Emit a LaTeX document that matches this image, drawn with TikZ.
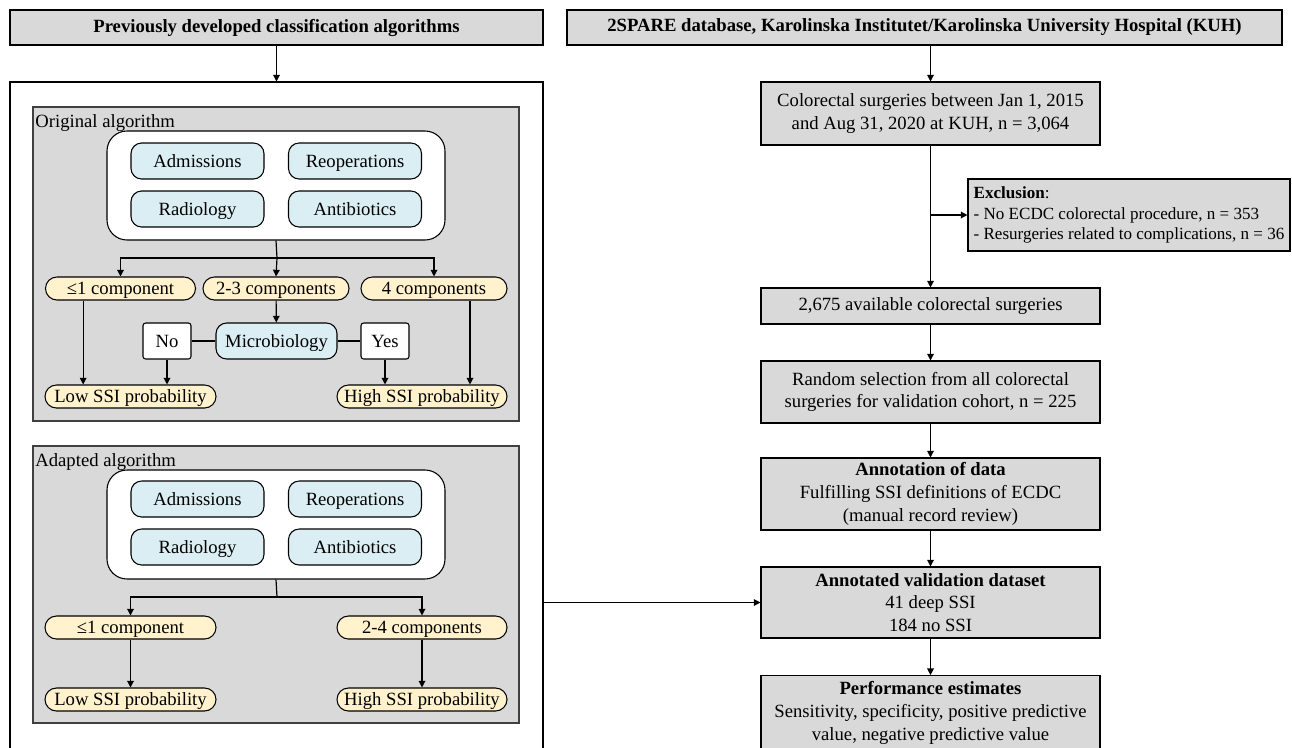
\documentclass[tikz,border=0pt]{standalone}
\usepackage{fontspec}
\setmainfont{Liberation Serif}
\usetikzlibrary{arrows.meta}
\definecolor{panelgray}{RGB}{217,217,217}
\definecolor{compblue}{RGB}{218,238,243}
\definecolor{pillyellow}{RGB}{255,242,204}
\definecolor{edgegray}{RGB}{64,64,64}

\begin{document}
\begin{tikzpicture}[x=0.75pt,y=-0.75pt,
  font=\fontsize{14}{17}\selectfont,
  arr/.style={-{Triangle[length=5pt,width=5pt]},line width=0.9pt},
  conn/.style={line width=0.9pt},
  head/.style={draw,fill=panelgray,font=\fontsize{14}{17}\selectfont\bfseries,minimum width=399.75pt,minimum height=26.25pt,inner sep=0pt,line width=0.8pt},
  panel/.style={draw=edgegray,fill=panelgray,minimum width=364.5pt,inner sep=0pt,line width=0.8pt},
  plbl/.style={anchor=north west,inner sep=2pt,yshift=-4pt},
  group/.style={draw,fill=white,rounded corners=15pt,minimum width=253.5pt,minimum height=81.75pt,line width=0.8pt},
  comp/.style={draw,fill=compblue,rounded corners=8pt,minimum width=99.75pt,minimum height=27pt,inner sep=0pt,text height=9.5pt,text depth=0.5pt,line width=0.8pt},
  pill/.style={draw,fill=pillyellow,rounded corners=8.6pt,minimum height=17.25pt,inner sep=0pt,text height=9.5pt,text depth=0.5pt,line width=0.8pt},
  answer/.style={draw,fill=white,rounded corners=2pt,minimum width=36pt,minimum height=27pt,inner sep=0pt,text height=9.5pt,text depth=0.5pt,line width=0.8pt},
  stepbox/.style={draw,fill=panelgray,minimum width=254.25pt,inner sep=0pt,align=center,line width=0.8pt}]
\clip (0,0) rectangle (1292,747);

% headers
\node[head] (hdl) at (276.5,27.5) {Previously developed classification algorithms};
\node[head,minimum width=536.25pt] (hdr) at (924.5,27.5) {2SPARE database, Karolinska Institutet/Karolinska University Hospital (KUH)};

% left side
\node[draw,fill=white,minimum width=399.75pt,minimum height=540pt,inner sep=0pt,line width=0.8pt] (outer) at (276.5,442) {};

% original algorithm
\node[panel,minimum height=235.5pt] (orig) at (276,264) {};
\node[plbl] (origlbl) at (orig.north west) {Original algorithm};
\node[group] (grp1) at (276,185.5) {};
\node[comp] (adm1) at (197.5,161) {Admissions};
\node[comp] (reop1) at (355,161) {Reoperations};
\node[comp] (rad1) at (197.5,209) {Radiology};
\node[comp] (anti1) at (355,209) {Antibiotics};
\node[pill,minimum width=112.5pt] (le1) at (120.5,288.5) {≤1 component};
\node[pill,minimum width=109.5pt] (two1) at (276,288.5) {2-3 components};
\node[pill,minimum width=109.5pt] (four1) at (434,288.5) {4 components};
\node[comp,minimum width=90.75pt] (micro) at (276.5,341) {Microbiology};
\node[answer] (no) at (167,341) {No};
\node[answer] (yes) at (385,341) {Yes};
\node[pill,minimum width=128.25pt] (low1) at (130.5,396.5) {Low SSI probability};
\node[pill,minimum width=127.5pt] (high1) at (422,396.5) {High SSI probability};

\coordinate (split1) at (277,258);
\draw[conn] (grp1.south) -- (split1);
\draw[arr] (split1) -| (le1.north);
\draw[arr] (split1) -- (two1.north);
\draw[arr] (split1) -| (four1.north);
\draw[arr] (two1) -- (micro);
\draw[conn] (no) -- (micro) -- (yes);
\draw[arr] ([xshift=-28pt]le1.south) -- ([xshift=-28pt]le1.south |- low1.north);
\draw[arr] (no) -- (no |- low1.north);
\draw[arr] (yes) -- (yes |- high1.north);
\draw[arr] ([xshift=27pt]four1.south) -- ([xshift=27pt]four1.south |- high1.north);

% adapted algorithm
\node[panel,minimum height=207.75pt] (adapt) at (276,584.5) {};
\node[plbl] (adaptlbl) at (adapt.north west) {Adapted algorithm};
\node[group] (grp2) at (276,524.5) {};
\node[comp] (adm2) at (197.5,499) {Admissions};
\node[comp] (reop2) at (355,499) {Reoperations};
\node[comp] (rad2) at (197.5,547) {Radiology};
\node[comp] (anti2) at (355,547) {Antibiotics};
\node[pill,minimum width=128.25pt] (le2) at (130.5,627.5) {≤1 component};
\node[pill,minimum width=127.5pt] (many2) at (422,627.5) {2-4 components};
\node[pill,minimum width=128.25pt] (low2) at (130.5,699.5) {Low SSI probability};
\node[pill,minimum width=127.5pt] (high2) at (422,699.5) {High SSI probability};

\coordinate (split2) at (277,597);
\draw[conn] (grp2.south) -- (split2);
\draw[arr] (split2) -| (le2.north);
\draw[arr] (split2) -| (many2.north);
\draw[arr] (le2) -- (low2);
\draw[arr] (many2) -- (high2);

% right side
\node[stepbox,minimum height=47.25pt] (surg) at (930.5,113.5) {Colorectal surgeries between Jan 1, 2015\\and Aug 31, 2020 at KUH, n = 3,064};
\node[draw,fill=panelgray,minimum width=241.5pt,minimum height=54pt,align=left,inner sep=3pt,line width=0.8pt,font=\fontsize{12.8}{15.5}\selectfont] (excl) at (1129,215) {\textbf{Exclusion}:\\- No ECDC colorectal procedure, n = 353\\- Resurgeries related to complications, n = 36};
\node[stepbox,minimum height=27pt] (avail) at (930.5,306) {2,675 available colorectal surgeries};
\node[stepbox,minimum height=46.5pt] (rand) at (930.5,392) {Random selection from all colorectal\\surgeries for validation cohort, n = 225};
\node[stepbox,minimum height=54pt] (annot) at (930.5,494) {\textbf{Annotation of data}\\Fulfilling SSI definitions of ECDC\\(manual record review)};
\node[stepbox,minimum height=53.25pt] (valid) at (930.5,602.5) {\textbf{Annotated validation dataset}\\41 deep SSI\\184 no SSI};
\node[stepbox,minimum height=56pt] (perf) at (930.5,713) {\textbf{Performance estimates}\\Sensitivity, specificity, positive predictive\\value, negative predictive value};

\draw[arr] (hdl) -- (outer);
\draw[arr] (hdr.south -| surg.north) -- (surg.north);
\draw[arr] (surg) -- (avail);
\draw[arr] (surg.south |- excl.west) -- (excl.west);
\draw[arr] (avail) -- (rand);
\draw[arr] (rand) -- (annot);
\draw[arr] (annot) -- (valid);
\draw[arr] (valid) -- (perf);
\draw[arr] (outer.east |- valid.west) -- (valid.west);
\end{tikzpicture}
\end{document}
